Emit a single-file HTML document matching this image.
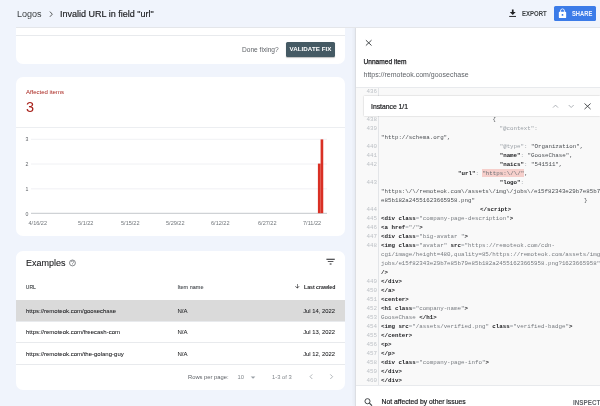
<!DOCTYPE html>
<html><head><meta charset="utf-8">
<style>
*{box-sizing:border-box;margin:0;padding:0}
html,body{width:600px;height:406px;overflow:hidden}
body{background:#f0f4fc;font-family:"Liberation Sans",Arial,sans-serif;color:#202124;position:relative}
.a{position:absolute;white-space:nowrap}
.card{position:absolute;background:#fff;border-radius:7px;left:16px;width:329px}
.ln{position:absolute;left:355px;width:22px;text-align:right;font-family:"Liberation Mono",monospace;font-size:5.85px;color:#bdc1c6;line-height:9px}
.cl{position:absolute;font-family:"Liberation Mono",monospace;font-size:5.8px;line-height:9px;color:#4a4e52;white-space:pre}
.t{font-weight:bold;color:#202124}
.v{color:#767a7f}
.g{color:#9aa0a6}
.hd{position:absolute;left:0;top:0;width:600px;height:26.5px;background:#f0f4fc;z-index:5}
.hdl{position:absolute;left:16px;top:26.5px;width:584px;height:1px;background:#e4e6ea;z-index:5}
.panel{position:absolute;left:355px;top:27px;width:245px;height:379px;background:#fff;border-left:1px solid #dcdee3;box-shadow:-1px 0 3px rgba(60,64,67,.07);z-index:3}
</style></head><body>

<!-- card 1 -->
<div class="card" style="top:14px;height:49.5px"></div>
<div class="a" style="left:16px;top:34.5px;width:329px;height:1px;background:#e8eaed"></div>
<div class="a" style="left:242px;top:44.6px;font-size:6.6px;line-height:10px;color:#5f6368">Done fixing?</div>
<div class="a" style="left:286px;top:41.7px;width:49px;height:15.3px;background:#455a64;border-radius:1.5px;box-shadow:0 1px 1px rgba(0,0,0,.25)"></div>
<div class="a" style="left:286px;top:44px;width:49px;text-align:center;font-size:6.2px;line-height:10px;font-weight:bold;color:#fff;letter-spacing:0.05px">VALIDATE FIX</div>

<!-- card 2 -->
<div class="card" style="top:77.3px;height:159.2px"></div>
<div class="a" style="left:26px;top:87.8px;font-size:6.0px;line-height:9px;color:#a8221b">Affected items</div>
<div class="a" style="left:26px;top:99.4px;font-size:14.5px;line-height:17px;color:#a8221b">3</div>
<div class="a" style="left:16px;top:126.7px;width:329px;height:1px;background:#eceef1"></div>
<!-- chart -->
<svg class="a" style="left:0;top:0" width="345" height="240">
<path d="M31 139.3H327M31 164H327M31 188.8H327" stroke="#eceef1" stroke-width="0.8"/>
<path d="M31 213.3H327" stroke="#c4c7cb" stroke-width="1"/>
<rect x="317.9" y="163.6" width="2.75" height="49.6" fill="#d93025"/>
<rect x="320.6" y="139.4" width="2.65" height="73.8" fill="#d93025"/>
</svg>
<div class="a" style="left:25.5px;top:135.5px;font-size:5.2px;line-height:6px;color:#5f6368">3</div>
<div class="a" style="left:25.5px;top:160.5px;font-size:5.2px;line-height:6px;color:#5f6368">2</div>
<div class="a" style="left:25.5px;top:185.5px;font-size:5.2px;line-height:6px;color:#5f6368">1</div>
<div class="a" style="left:25.5px;top:210.5px;font-size:5.2px;line-height:6px;color:#5f6368">0</div>
<div class="a" style="left:28.5px;top:219.5px;font-size:5.55px;line-height:6px;color:#70757a">4/16/22</div>
<div class="a" style="left:78px;top:219.5px;font-size:5.55px;line-height:6px;color:#70757a">5/1/22</div>
<div class="a" style="left:121px;top:219.5px;font-size:5.55px;line-height:6px;color:#70757a">5/15/22</div>
<div class="a" style="left:166px;top:219.5px;font-size:5.55px;line-height:6px;color:#70757a">5/29/22</div>
<div class="a" style="left:211px;top:219.5px;font-size:5.55px;line-height:6px;color:#70757a">6/12/22</div>
<div class="a" style="left:258px;top:219.5px;font-size:5.55px;line-height:6px;color:#70757a">6/27/22</div>
<div class="a" style="left:303px;top:219.5px;font-size:5.55px;line-height:6px;color:#70757a">7/11/22</div>

<!-- card 3 -->
<div class="card" style="top:251px;height:138.5px"></div>
<div class="a" style="left:26px;top:256.5px;font-size:9px;line-height:12px;color:#202124;-webkit-text-stroke:0.1px #202124">Examples</div>
<svg class="a" style="left:0;top:0" width="90" height="280"><circle cx="72.45" cy="262.95" r="2.95" stroke="#5f6368" stroke-width="0.75" fill="none"/><path d="M71.35 262.1a1.12 1.12 0 1 1 1.65 .95c-.38 .22-.55 .45-.55 .95" stroke="#5f6368" stroke-width="0.6" fill="none"/><circle cx="72.45" cy="264.75" r="0.36" fill="#5f6368"/></svg>
<svg class="a" style="left:324.5px;top:255.6px" width="11.2" height="11.2" viewBox="0 0 24 24"><path d="M10 18h4v-2h-4v2zM3 6v2h18V6H3zm3 7h12v-2H6v2z" fill="#202124"/></svg>
<div class="a" style="left:25.8px;top:284px;font-size:5px;line-height:7px;color:#3c4043;-webkit-text-stroke:0.1px #3c4043">URL</div>
<div class="a" style="left:177.5px;top:284px;font-size:5.5px;line-height:7px;color:#4d5156;-webkit-text-stroke:0.1px #4d5156">Item name</div>
<svg class="a" style="left:294.3px;top:283.4px" width="6.6" height="6.6" viewBox="0 0 24 24"><path d="M20 12l-1.41-1.41L13 16.17V4h-2v12.17l-5.58-5.59L4 12l8 8 8-8z" fill="#202124"/></svg>
<div class="a" style="left:304px;top:284px;font-size:5.2px;line-height:7px;font-weight:bold;color:#202124">Last crawled</div>
<div class="a" style="left:16px;top:299.5px;width:329px;height:21px;background:#dadada"></div>
<div class="a" style="left:16px;top:342px;width:329px;height:0.6px;background:#e8eaed"></div>
<div class="a" style="left:16px;top:364px;width:329px;height:0.6px;background:#e8eaed"></div>
<div class="a" style="left:16px;top:320.5px;width:329px;height:0.6px;background:#e8eaed"></div>
<div class="a" style="left:26px;top:306.5px;font-size:6.0px;line-height:8px;color:#202124;-webkit-text-stroke:0.06px #202124">https://remoteok.com/goosechase</div>
<div class="a" style="left:26px;top:328px;font-size:6.0px;line-height:8px;color:#202124;-webkit-text-stroke:0.06px #202124">https://remoteok.com/freecash-com</div>
<div class="a" style="left:26px;top:349.5px;font-size:6.0px;line-height:8px;color:#202124;-webkit-text-stroke:0.06px #202124">https://remoteok.com/the-golang-guy</div>
<div class="a" style="left:177.5px;top:306.5px;font-size:6.0px;line-height:8px;color:#202124;-webkit-text-stroke:0.06px #202124">N/A</div>
<div class="a" style="left:177.5px;top:328px;font-size:6.0px;line-height:8px;color:#202124;-webkit-text-stroke:0.06px #202124">N/A</div>
<div class="a" style="left:177.5px;top:349.5px;font-size:6.0px;line-height:8px;color:#202124;-webkit-text-stroke:0.06px #202124">N/A</div>
<div class="a" style="left:275px;width:60px;text-align:right;top:306.5px;font-size:5.85px;line-height:8px;color:#202124;-webkit-text-stroke:0.06px #202124">Jul 14, 2022</div>
<div class="a" style="left:275px;width:60px;text-align:right;top:328px;font-size:5.85px;line-height:8px;color:#202124;-webkit-text-stroke:0.06px #202124">Jul 13, 2022</div>
<div class="a" style="left:275px;width:60px;text-align:right;top:349.5px;font-size:5.85px;line-height:8px;color:#202124;-webkit-text-stroke:0.06px #202124">Jul 12, 2022</div>
<div class="a" style="left:188px;top:374px;font-size:5.8px;line-height:7px;color:#5f6368">Rows per page:</div>
<div class="a" style="left:237.5px;top:374px;font-size:5.8px;line-height:7px;color:#80868b">10</div>
<svg class="a" style="left:0;top:0" width="345" height="400"><path d="M250.7 376.4L255.4 376.4L253.05 378.8Z" fill="#9aa0a6"/><path d="M312.3 374.4L310 376.7L312.3 379M330.3 374.4L332.6 376.7L330.3 379" stroke="#a0a4a9" stroke-width="0.8" fill="none"/></svg>
<div class="a" style="left:272px;top:374px;font-size:5.8px;line-height:7px;color:#80868b">1-3 of 3</div>

<!-- right panel -->
<div class="panel">
</div>
<div style="position:absolute;left:0;top:0;width:600px;height:406px;z-index:4">
<svg class="a" style="left:0;top:0" width="600" height="406"><path d="M365.9 40.2L371.5 45.5M371.5 40.2L365.9 45.5" stroke="#3c4043" stroke-width="0.95" fill="none"/></svg>
<div class="a" style="left:363.5px;top:57.8px;font-size:6.6px;line-height:8px;color:#202124;-webkit-text-stroke:0.25px #202124">Unnamed item</div>
<div class="a" style="left:363.5px;top:71px;font-size:7px;line-height:8px;color:#5f6368">https://remoteok.com/goosechase</div>

<!-- code area -->
<div class="a" style="left:356px;top:87px;width:244px;height:298.5px;background:#f9f9f9;border-top:1px solid #e8eaed;border-bottom:1px solid #e8eaed"></div>
<div class="a" style="left:378px;top:88px;width:0.6px;height:297px;background:#e3e5e8"></div>

<div class="ln" style="top:87.4px">436</div>
<div class="ln" style="top:115.3px">438</div>
<div class="ln" style="top:124.3px">439</div>
<div class="ln" style="top:142.3px">440</div>
<div class="ln" style="top:151.3px">441</div>
<div class="ln" style="top:160.3px">442</div>
<div class="ln" style="top:178.3px">443</div>
<div class="ln" style="top:205.3px">444</div>
<div class="ln" style="top:214.3px">445</div>
<div class="ln" style="top:223.3px">446</div>
<div class="ln" style="top:232.3px">447</div>
<div class="ln" style="top:241.3px">448</div>
<div class="ln" style="top:277.3px">449</div>
<div class="ln" style="top:286.3px">450</div>
<div class="ln" style="top:295.3px">451</div>
<div class="ln" style="top:304.3px">452</div>
<div class="ln" style="top:313.3px">453</div>
<div class="ln" style="top:322.3px">454</div>
<div class="ln" style="top:331.3px">455</div>
<div class="ln" style="top:340.3px">456</div>
<div class="ln" style="top:349.3px">457</div>
<div class="ln" style="top:358.3px">458</div>
<div class="ln" style="top:367.3px">459</div>
<div class="ln" style="top:376.3px">460</div>

<div class="cl" style="left:492.5px;top:114.5px">{</div>
<div class="cl g" style="left:499.5px;top:123.5px">"@context":</div>
<div class="cl" style="left:381px;top:132.5px">"http://schema.org",</div>
<div class="cl" style="left:499.7px;top:141.5px"><span class="g">"@type"</span><span class="g">:</span> "Organization",</div>
<div class="cl" style="left:499.7px;top:150.5px"><span class="t">"name"</span><span class="g">:</span> "GooseChase",</div>
<div class="cl" style="left:499.7px;top:159.5px"><span class="t">"naics"</span><span class="g">:</span> "541511",</div>
<div class="a" style="left:481.6px;top:169px;width:42.4px;height:8px;background:#f6cfcb"></div>
<div class="cl" style="left:458px;top:168.5px"><span class="t">"url"</span><span class="g">:</span> <span style="color:#6b6f74">"https:\/\/"</span>,</div>
<div class="cl" style="left:499.7px;top:177.5px"><span class="t">"logo"</span><span class="g">:</span></div>
<div class="cl" style="left:381px;top:186.5px">"https:\/\/remoteok.com\/assets\/img\/jobs\/e15f82343e29b7e85b79e85b182a2455</div>
<div class="cl" style="left:381px;top:195.5px">e85b182a24551623665958.png"</div>
<div class="cl" style="left:584px;top:195.5px">}</div>
<div class="cl t" style="left:480px;top:204.5px">&lt;/script&gt;</div>
<div class="cl" style="left:381px;top:213.5px"><span class="t">&lt;div class</span><span class="g">=</span><span class="v">"company-page-description"</span><span class="t">&gt;</span></div>
<div class="cl" style="left:381px;top:222.5px"><span class="t">&lt;a href</span><span class="g">=</span><span class="v">"/"</span><span class="t">&gt;</span></div>
<div class="cl" style="left:381px;top:231.5px"><span class="t">&lt;div class</span><span class="g">=</span><span class="v">"big-avatar "</span><span class="t">&gt;</span></div>
<div class="cl" style="left:381px;top:240.5px"><span class="t">&lt;img class</span><span class="g">=</span><span class="v">"avatar"</span> <span class="t">src</span><span class="g">=</span><span class="v">"https://remoteok.com/cdn-</span></div>
<div class="cl v" style="left:381px;top:249.5px">cgi/image/height=480,quality=85/https://remoteok.com/assets/img/</div>
<div class="cl v" style="left:381px;top:258.5px">jobs/e15f82343e29b7e85b79e85b182a24551623665958.png?1623665958"</div>
<div class="cl t" style="left:381px;top:267.5px">/&gt;</div>
<div class="cl t" style="left:381px;top:276.5px">&lt;/div&gt;</div>
<div class="cl t" style="left:381px;top:285.5px">&lt;/a&gt;</div>
<div class="cl t" style="left:381px;top:294.5px">&lt;center&gt;</div>
<div class="cl" style="left:381px;top:303.5px"><span class="t">&lt;h1 class</span><span class="g">=</span><span class="v">"company-name"</span><span class="t">&gt;</span></div>
<div class="cl" style="left:381px;top:312.5px"><span class="v">GooseChase</span> <span class="t">&lt;/h1&gt;</span></div>
<div class="cl" style="left:381px;top:321.5px"><span class="t">&lt;img src</span><span class="g">=</span><span class="v">"/assets/verified.png"</span> <span class="t">class</span><span class="g">=</span><span class="v">"verified-badge"</span><span class="t">&gt;</span></div>
<div class="cl t" style="left:381px;top:330.5px">&lt;/center&gt;</div>
<div class="cl t" style="left:381px;top:339.5px">&lt;p&gt;</div>
<div class="cl t" style="left:381px;top:348.5px">&lt;/p&gt;</div>
<div class="cl" style="left:381px;top:357.5px"><span class="t">&lt;div class</span><span class="g">=</span><span class="v">"company-page-info"</span><span class="t">&gt;</span></div>
<div class="cl t" style="left:381px;top:366.5px">&lt;/div&gt;</div>
<div class="cl t" style="left:381px;top:375.5px">&lt;/div&gt;</div>

<!-- instance bar -->
<div class="a" style="left:363.5px;top:96px;width:236px;height:20px;background:#fff;box-shadow:0 0 1.5px rgba(0,0,0,.25)"></div>
<div class="a" style="left:371px;top:102.8px;font-size:6.8px;line-height:8px;color:#202124;-webkit-text-stroke:0.2px #202124">Instance 1/1</div>
<svg class="a" style="left:0;top:0" width="600" height="406"><path d="M553 107.6L555.5 105.1L558 107.6M568.7 105L571.2 107.5L573.7 105" stroke="#9aa0a6" stroke-width="0.8" fill="none"/><path d="M584.5 103.5L590.6 109.1M590.6 103.5L584.5 109.1" stroke="#3c4043" stroke-width="0.9" fill="none"/></svg>



<!-- bottom -->
<svg class="a" style="left:0;top:0" width="600" height="406"><circle cx="367.5" cy="401.2" r="2.55" stroke="#3c4043" stroke-width="0.95" fill="none"/><path d="M369.4 403.1L372 405.7" stroke="#3c4043" stroke-width="1.1"/></svg>
<div class="a" style="left:381.5px;top:397.6px;font-size:6.8px;line-height:8px;color:#202124;-webkit-text-stroke:0.2px #202124">Not affected by other issues</div>
<div class="a" style="left:573px;top:398.8px;font-size:6.3px;line-height:8px;font-weight:bold;color:#5f6368">INSPECT</div>
</div>

<!-- header -->
<div class="hdl"></div>
<div class="hd">
<div class="a" style="left:17px;top:7.9px;font-size:9.6px;line-height:12px;color:#3c4043;transform:scaleX(0.94);transform-origin:0 0">Logos</div>
<svg class="a" style="left:0;top:0" width="60" height="27"><path d="M49.9 11.6L52.3 14.2L49.9 16.8" stroke="#444746" stroke-width="0.9" fill="none"/></svg>
<div class="a" style="left:60px;top:8px;font-size:9.6px;line-height:12px;color:#202124;-webkit-text-stroke:0.18px #202124;transform:scaleX(0.94);transform-origin:0 0">Invalid URL in field "url"</div>
<svg class="a" style="left:0;top:0" width="600" height="27"><path d="M511.9 9.4H513.6V11.9H515.7L512.75 14.9L509.8 11.9H511.9Z" fill="#202124"/><rect x="509.2" y="15.95" width="6.8" height="0.95" fill="#202124"/></svg>
<div class="a" style="left:521.6px;top:9px;font-size:6.9px;line-height:10px;font-weight:bold;color:#3c4043;transform:scaleX(0.875);transform-origin:0 0">EXPORT</div>
<div class="a" style="left:554px;top:6px;width:42px;height:15px;background:#3b7be8;border-radius:1.5px"></div>
<svg class="a" style="left:557px;top:7.1px" width="11" height="13" viewBox="0 0 24 24"><path d="M18 8h-1V6c0-2.76-2.24-5-5-5S7 3.24 7 6v2H6c-1.1 0-2 .9-2 2v10c0 1.1.9 2 2 2h12c1.1 0 2-.9 2-2V10c0-1.1-.9-2-2-2zm-6 9c-1.1 0-2-.9-2-2s.9-2 2-2 2 .9 2 2-.9 2-2 2zm3.1-9H8.9V6c0-1.710 1.39-3.1 3.1-3.1 1.71 0 3.1 1.39 3.1 3.1v2z" fill="#fff"/></svg>
<div class="a" style="left:571.9px;top:8.8px;font-size:6.5px;line-height:10px;font-weight:bold;color:#f1f5fe;transform:scaleX(0.89);transform-origin:0 0">SHARE</div>
</div>

</body></html>
